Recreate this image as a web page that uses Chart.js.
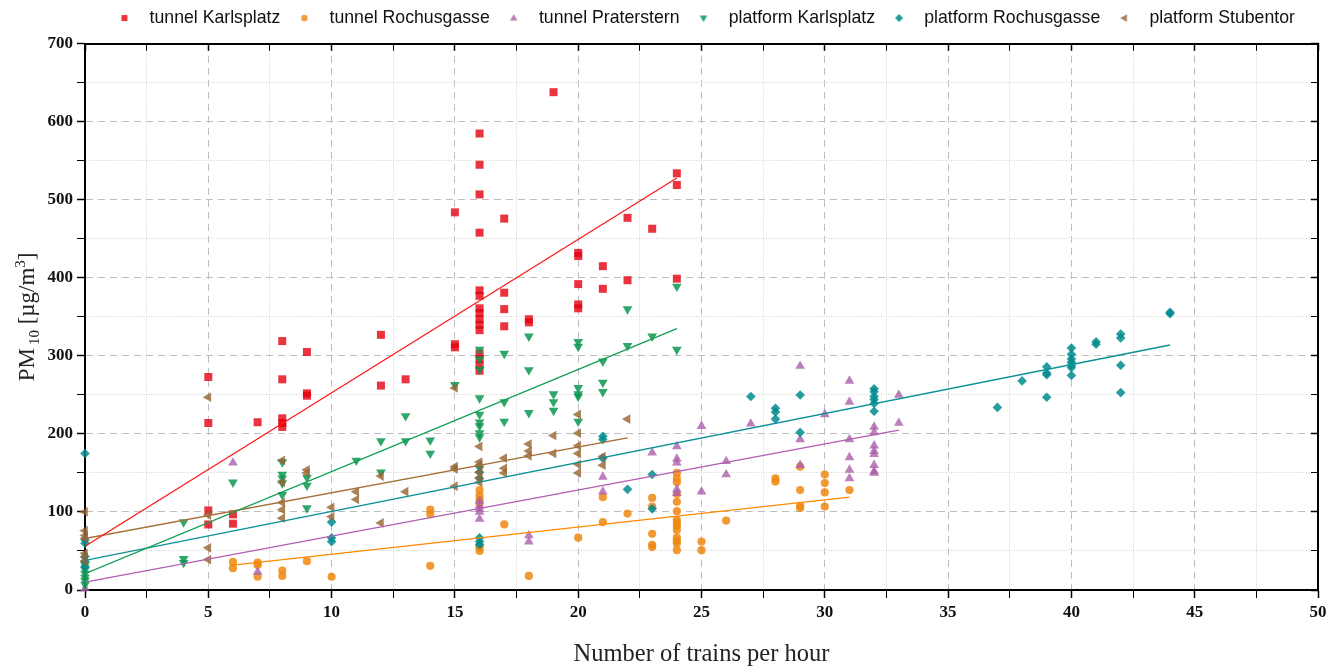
<!DOCTYPE html>
<html>
<head>
<meta charset="utf-8">
<title>PM10 vs. trains per hour</title>
<script src="https://cdn.jsdelivr.net/npm/chart.js@4.4.1/dist/chart.umd.min.js"></script>
<style>
  html, body { margin: 0; padding: 0; background: #ffffff; }
  #wrap { width: 1336px; height: 670px; }
</style>
</head>
<body>
<div id="wrap"><canvas id="c" width="1336" height="670"></canvas></div>
<script>
// Measured PM10 concentrations [µg/m³] against number of trains per hour: [trains, PM10]
const seriesNames = ['tunnel Karlsplatz', 'tunnel Rochusgasse', 'tunnel Praterstern',
                     'platform Karlsplatz', 'platform Rochusgasse', 'platform Stubentor'];

const tunnelKarlsplatz = [
  [5,273],[5,214],[5,102],[5,84],[6,97],[6,85],[7,215],
  [8,319],[8,270],[8,220],[8,214],[8,209],[9,305],[9,252],[9,249],
  [12,327],[12,262],[13,270],[15,484],[15,315],[15,311],
  [16,585],[16,545],[16,507],[16,458],[16,384],[16,377],[16,361],[16,355],[16,347],[16,340],[16,333],
  [16,303],[16,296],[16,288],[16,281],
  [17,476],[17,381],[17,360],[17,338],[18,347],[18,343],[19,638],
  [20,432],[20,428],[20,392],[20,366],[20,361],[21,415],[21,386],[22,477],[22,397],[23,463],
  [24,534],[24,519],[24,399]
];
const tunnelRochusgasse = [
  [6,36],[6,28],[7,35],[7,32],[7,17],[8,25],[8,18],[9,37],[10,17],
  [14,103],[14,97],[14,31],
  [16,128],[16,121],[16,116],[16,111],[16,57],[16,54],[16,50],
  [17,84],[18,18],[20,67],[21,119],[21,87],[22,98],
  [23,118],[23,107],[23,72],[23,58],[23,55],
  [24,150],[24,143],[24,138],[24,123],[24,113],[24,101],[24,90],[24,86],[24,82],[24,77],[24,67],[24,63],[24,60],[24,51],
  [25,62],[25,51],[26,89],[28,143],[28,139],
  [29,158],[29,128],[29,108],[29,105],[30,148],[30,137],[30,125],[30,107],[31,128]
];
const tunnelPraterstern = [
  [0,2],[6,163],[7,23],
  [16,114],[16,108],[16,104],[16,100],[16,91],[18,70],[18,62],[21,145],[21,126],[23,176],
  [24,184],[24,168],[24,163],[24,129],[24,124],[25,210],[25,126],[26,165],[26,148],[27,213],
  [29,287],[29,193],[29,160],[30,225],
  [31,268],[31,241],[31,193],[31,170],[31,154],[31,143],
  [32,209],[32,202],[32,185],[32,178],[32,174],[32,160],[32,152],[32,150],
  [33,250],[33,214]
];
const platformKarlsplatz = [
  [0,32],[0,26],[0,21],[0,16],[0,12],[0,7],[4,87],[4,40],[4,35],[6,138],
  [8,164],[8,148],[8,143],[8,137],[8,122],[9,144],[9,134],[9,105],[11,166],
  [12,191],[12,151],[13,223],[13,191],[14,192],[14,175],[15,263],
  [16,308],[16,296],[16,283],[16,246],[16,225],[16,215],[16,210],[16,201],[16,196],
  [17,303],[17,241],[17,216],[18,325],[18,282],[18,227],[19,251],[19,241],[19,230],
  [20,318],[20,312],[20,259],[20,251],[20,248],[20,216],[21,293],[21,266],[21,254],
  [22,360],[22,313],[23,325],[24,389],[24,308]
];
const platformRochusgasse = [
  [0,175],[0,64],[0,60],[0,43],[0,37],[0,30],[10,87],[10,67],[10,62],
  [16,158],[16,151],[16,143],[16,67],[16,62],[16,58],[21,197],[21,193],[21,169],[22,129],[23,148],[23,104],
  [27,248],[28,233],[28,228],[28,219],[29,250],[29,202],
  [32,258],[32,254],[32,248],[32,244],[32,239],[32,229],
  [37,234],[38,268],[39,286],[39,278],[39,276],[39,247],
  [40,310],[40,302],[40,296],[40,292],[40,288],[40,285],[40,275],
  [41,318],[41,315],[42,328],[42,323],[42,288],[42,253],[44,356],[44,354]
];
const platformStubentor = [
  [0,100],[0,76],[0,70],[0,66],[0,47],[0,42],[0,37],[5,247],[5,96],[5,54],[5,39],
  [8,166],[8,138],[8,112],[8,103],[8,92],[9,154],[9,150],[10,106],[10,94],[11,126],[11,116],
  [12,146],[12,86],[13,126],[15,259],[15,158],[15,155],[15,133],
  [16,184],[16,164],[16,160],[16,151],[16,144],[16,138],[17,169],[17,156],[17,150],
  [18,187],[18,178],[18,172],[19,198],[19,175],
  [20,225],[20,201],[20,185],[20,175],[20,161],[20,150],[21,171],[21,160],[22,219]
];

// Linear fit lines, start and end point of each
const fitTunnelKarlsplatz    = [[0,56],[24,528]];
const fitTunnelRochusgasse   = [[6,32],[31,119]];
const fitTunnelPraterstern   = [[0,10],[33,205]];
const fitPlatformKarlsplatz  = [[0,21],[24,335]];
const fitPlatformRochusgasse = [[0,38],[44,314]];
const fitPlatformStubentor   = [[0,66],[22,195]];

const xRange = [0, 50];
const yRange = [0, 700];

const pointSets = [tunnelKarlsplatz, tunnelRochusgasse, tunnelPraterstern,
                   platformKarlsplatz, platformRochusgasse, platformStubentor];
const fitSets = [fitTunnelKarlsplatz, fitTunnelRochusgasse, fitTunnelPraterstern,
                 fitPlatformKarlsplatz, fitPlatformRochusgasse, fitPlatformStubentor];

// Marker and line styling per series
const looks = [
  { fill: 'rgba(228,0,15,0.80)',   icon: '#e8343e', line: '#ff1a1a', shape: 'rect',     rot: 0,   r: 5.66 },
  { fill: 'rgba(238,136,17,0.85)', icon: '#f29a36', line: '#ff8a00', shape: 'circle',   rot: 0,   r: 4.1 },
  { fill: 'rgba(170,95,170,0.80)', icon: '#b983b9', line: '#b25db2', shape: 'triangle', rot: 0,   r: 5.6 },
  { fill: 'rgba(10,150,80,0.85)',  icon: '#2ea66a', line: '#0f9e52', shape: 'triangle', rot: 180, r: 5.6 },
  { fill: 'rgba(0,140,145,0.85)',  icon: '#259ca0', line: '#0b9196', shape: 'rectRot',  rot: 0,   r: 4.8 },
  { fill: 'rgba(150,100,50,0.80)', icon: '#ab835b', line: '#a46e35', shape: 'triangle', rot: 270, r: 5.6 }
];

// Small legend icons (already oriented, so the legend must not rotate them again)
function makeIcon(st) {
  const c = document.createElement('canvas');
  c.width = 12; c.height = 12;
  const g = c.getContext('2d');
  g.fillStyle = st.icon;
  g.translate(6, 6);
  g.rotate(st.rot * Math.PI / 180);
  g.beginPath();
  if (st.shape === 'rect') g.rect(-3, -3, 6, 6);
  else if (st.shape === 'circle') g.arc(0, 0, 3.2, 0, Math.PI * 2);
  else if (st.shape === 'rectRot') { g.moveTo(0, -4); g.lineTo(4, 0); g.lineTo(0, 4); g.lineTo(-4, 0); g.closePath(); }
  else { g.moveTo(0, -4); g.lineTo(3.8, 2.6); g.lineTo(-3.8, 2.6); g.closePath(); }
  g.fill();
  return c;
}
const icons = looks.map(makeIcon);

const toXY = arr => arr.map(p => ({ x: p[0], y: p[1] }));

const datasets = [];
pointSets.forEach((pts, i) => {
  const st = looks[i];
  datasets.push({
    label: seriesNames[i],
    data: toXY(pts),
    pointStyle: st.shape,
    pointRotation: st.rot,
    pointRadius: st.r,
    pointBackgroundColor: st.fill,
    pointBorderWidth: 0,
    pointBorderColor: 'rgba(0,0,0,0)',
    backgroundColor: st.fill,
    borderColor: st.fill,
    showLine: false,
    clip: false,
    order: 6 - i + 1
  });
});
fitSets.forEach((pts, i) => {
  datasets.push({
    label: seriesNames[i] + ' fit',
    data: toXY(pts),
    showLine: true,
    pointRadius: 0,
    borderColor: looks[i].line,
    borderWidth: 1.3,
    fill: false,
    order: 0
  });
});

// Rotated y axis title with sub- and superscript
const yTitlePlugin = {
  id: 'yTitle',
  afterDraw(chart) {
    const { ctx, chartArea } = chart;
    const cy = (chartArea.top + chartArea.bottom) / 2;
    const big = '23px "Liberation Serif"';
    const small = '15px "Liberation Serif"';
    const parts = [
      { t: 'PM', f: big, dy: 0, gap: 3 },
      { t: '10', f: small, dy: 5, gap: 0 },
      { t: ' [µg/m', f: big, dy: 0, gap: 0 },
      { t: '3', f: small, dy: -9, gap: 0 },
      { t: ']', f: big, dy: 0, gap: 0 }
    ];
    ctx.save();
    let total = 0;
    parts.forEach(p => { ctx.font = p.f; p.w = ctx.measureText(p.t).width; total += p.w + p.gap; });
    ctx.translate(26, cy);
    ctx.rotate(-Math.PI / 2);
    ctx.fillStyle = '#222222';
    ctx.textBaseline = 'alphabetic';
    ctx.textAlign = 'left';
    let x = -total / 2;
    parts.forEach(p => {
      ctx.font = p.f;
      ctx.fillText(p.t, x, 7.5 + p.dy);
      x += p.w + p.gap;
    });
    ctx.restore();
  }
};

const tickFont = { family: 'Liberation Serif', size: 17, weight: 'bold' };
const isMajorX = c => c.tick && Math.abs(c.tick.value % 5) < 1e-6;
const isMajorY = c => c.tick && Math.abs(c.tick.value % 100) < 1e-6;

new Chart(document.getElementById('c'), {
  type: 'scatter',
  data: { datasets },
  options: {
    responsive: false,
    animation: false,
    events: [],
    layout: { padding: { top: 1.5, left: 0, right: 0, bottom: 0 } },
    plugins: {
      tooltip: { enabled: false },
      legend: {
        display: true,
        position: 'top',
        align: 'center',
        fullSize: false,
        labels: {
          usePointStyle: true,
          pointStyleWidth: 32.6,
          padding: 7.7,
          color: '#111111',
          font: { family: 'Liberation Sans', size: 17.7 },
          filter: item => item.datasetIndex < 6,
          sort: (a, b) => a.datasetIndex - b.datasetIndex,
          generateLabels(chart) {
            const items = Chart.defaults.plugins.legend.labels.generateLabels(chart);
            items.forEach(it => {
              if (it.datasetIndex < 6) it.pointStyle = icons[it.datasetIndex];
              it.rotation = 0;
              it.lineWidth = 0;
            });
            return items;
          }
        }
      }
    },
    scales: {
      x: {
        type: 'linear', position: 'bottom', min: xRange[0], max: xRange[1],
        afterFit: s => { s.height = 80; },
        ticks: {
          stepSize: 2.5, autoSkip: false, maxRotation: 0, padding: 4,
          font: tickFont, color: '#111111',
          callback: v => (Math.abs(v % 5) < 1e-6 ? String(v) : '')
        },
        grid: {
          z: -1,
          color: c => (isMajorX(c) ? '#bdbdbd' : '#d2d2d2'),
          lineWidth: 1,
          tickLength: 8,
          tickColor: '#000000',
          tickWidth: c => (isMajorX(c) ? 1.5 : 1)
        },
        border: {
          color: '#000000', width: 2,
          dash: c => (c.tick ? (isMajorX(c) ? [7, 5] : [1, 1.5]) : [])
        },
        title: {
          display: true, text: 'Number of trains per hour', color: '#222222',
          font: { family: 'Liberation Serif', size: 24.5 },
          padding: { top: 0, bottom: 1 }
        }
      },
      y: {
        type: 'linear', position: 'left', min: yRange[0], max: yRange[1],
        afterFit: s => { s.width = 85; },
        ticks: {
          stepSize: 50, autoSkip: false, padding: 4,
          font: tickFont, color: '#111111',
          callback: v => (Math.abs(v % 100) < 1e-6 ? String(v) : '')
        },
        grid: {
          z: -1,
          color: c => (isMajorY(c) ? '#bdbdbd' : '#d2d2d2'),
          lineWidth: 1,
          tickLength: 8,
          tickColor: '#000000',
          tickWidth: c => (isMajorY(c) ? 1.5 : 1)
        },
        border: {
          color: '#000000', width: 2,
          dash: c => (c.tick ? (isMajorY(c) ? [7, 5] : [1, 1.5]) : [])
        }
      },
      x2: {
        type: 'linear', position: 'top', min: xRange[0], max: xRange[1],
        afterFit: s => { s.height = 6.9; },
        ticks: { stepSize: 2.5, display: false },
        grid: {
          z: -1, drawOnChartArea: false, tickLength: -7, tickColor: '#000000',
          tickWidth: c => (isMajorX(c) ? 1.5 : 1)
        },
        border: { color: '#000000', width: 2 }
      },
      y2: {
        type: 'linear', position: 'right', min: yRange[0], max: yRange[1],
        afterFit: s => { s.width = 18; },
        ticks: { stepSize: 50, display: false },
        grid: {
          z: -1, drawOnChartArea: false, tickLength: -7, tickColor: '#000000',
          tickWidth: c => (isMajorY(c) ? 1.5 : 1)
        },
        border: { color: '#000000', width: 2 }
      }
    }
  },
  plugins: [yTitlePlugin]
});
</script>
</body>
</html>
